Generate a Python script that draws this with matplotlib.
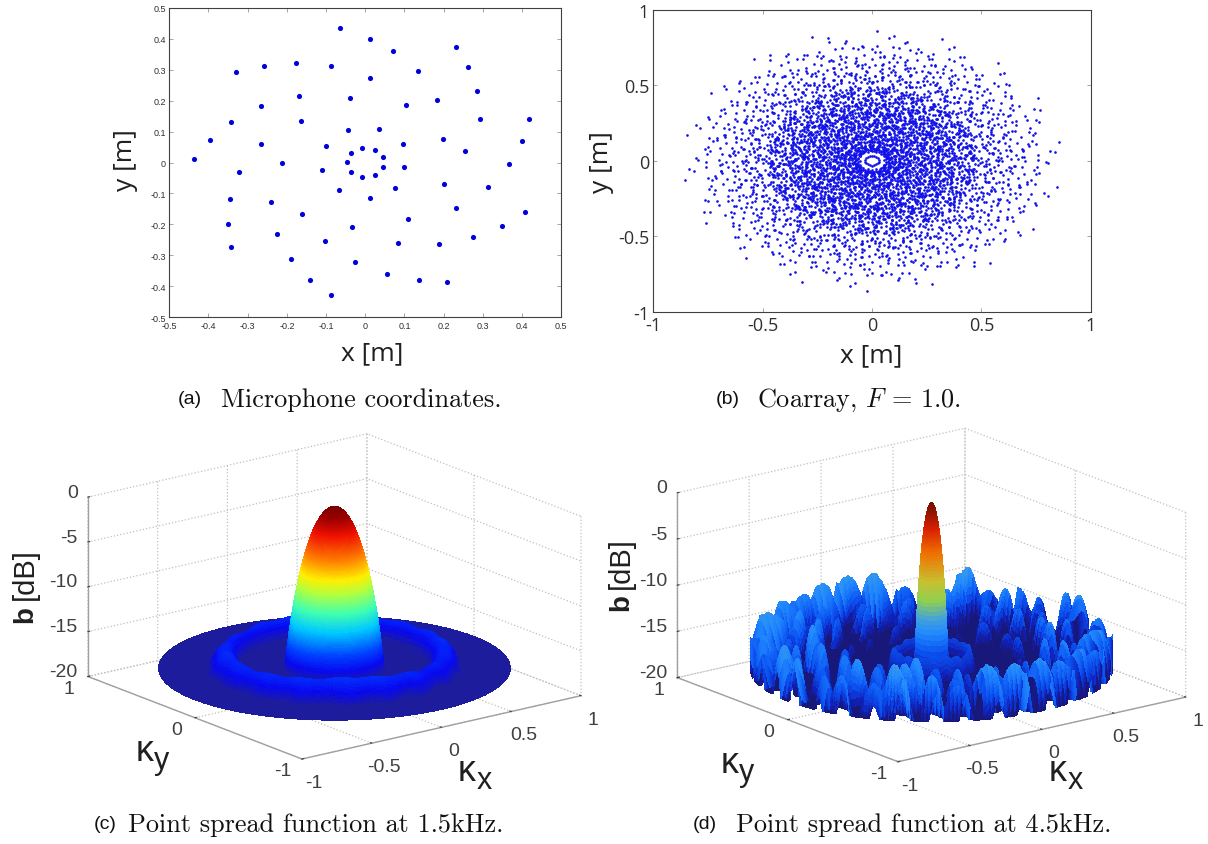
import numpy as np
import matplotlib
matplotlib.use("Agg")
import matplotlib.pyplot as plt
from matplotlib.colors import LinearSegmentedColormap
from mpl_toolkits.mplot3d import proj3d

W, H = 1208, 845
plt.rcParams['axes.unicode_minus'] = False
plt.rcParams['mathtext.fontset'] = 'cm'

# Microphone coordinates
mic_x = [-0.065, 0.011, 0.070, 0.232, 0.262, -0.329, -0.258, -0.177, -0.087, 0.134, 0.011, 0.285,
         -0.168, -0.038, 0.184, -0.267, 0.104, -0.342, -0.164, 0.292, 0.417, -0.043, 0.034, -0.397,
         0.199, 0.399, -0.267, 0.095, -0.099, -0.008, 0.025, 0.255, -0.037, 0.045, -0.438, -0.212,
         -0.047, 0.366, -0.321, -0.037, 0.045, 0.099, -0.110, 0.025, -0.008, 0.201, 0.077, -0.068,
         0.313, -0.346, 0.011, -0.241, 0.232, -0.161, 0.408, -0.351, 0.108, -0.035, 0.349, -0.225,
         0.276, -0.103, 0.083, 0.188, -0.343, -0.189, -0.025, 0.056, -0.141, 0.136, 0.209, -0.088]
mic_y = [0.433, 0.399, 0.359, 0.374, 0.308, 0.291, 0.312, 0.320, 0.312, 0.294, 0.273, 0.231,
         0.216, 0.209, 0.203, 0.182, 0.186, 0.132, 0.135, 0.140, 0.139, 0.105, 0.108, 0.074,
         0.075, 0.068, 0.059, 0.061, 0.052, 0.048, 0.041, 0.038, 0.032, 0.017, 0.012, -0.002,
         0.001, -0.006, -0.031, -0.030, -0.016, -0.013, -0.024, -0.040, -0.047, -0.069, -0.082, -0.089,
         -0.079, -0.118, -0.115, -0.126, -0.146, -0.167, -0.160, -0.199, -0.181, -0.208, -0.204, -0.231,
         -0.240, -0.252, -0.260, -0.262, -0.273, -0.313, -0.321, -0.360, -0.378, -0.379, -0.385, -0.429]

freq_c = 1500.0
freq_d = 4500.0
sound_speed = 320.0  # picked so the lobe widths match the reference
floor_db = -18.0

ticks_a = [-0.5, -0.4, -0.3, -0.2, -0.1, 0, 0.1, 0.2, 0.3, 0.4, 0.5]
labels_a = ['-0.5', '-0.4', '-0.3', '-0.2', '-0.1', '0', '0.1', '0.2', '0.3', '0.4', '0.5']
ticks_b = [-1, -0.5, 0, 0.5, 1]
labels_b = ['-1', '-0.5', '0', '0.5', '1']
ticks_kx = [-1, -0.5, 0, 0.5, 1]
ticks_ky = [-1, 0, 1]
ticks_z = [-20, -15, -10, -5, 0]

# colours: (dB, colour)
colors_c = [(-20, '#15158c'), (-18, '#1c1c9c'), (-17.5, '#1616b8'), (-16.6, '#0808f0'), (-15, '#0040ff'),
            (-12.5, '#00c8ff'), (-10.5, '#40ffb0'), (-8.5, '#b0ff40'), (-7, '#ffee00'), (-5, '#ff8000'),
            (-2.6, '#f01000'), (-1, '#a00000'), (0, '#7a0000')]
colors_d = [(-20, '#141464'), (-18, '#18187a'), (-17, '#1020b8'), (-15.5, '#0a50f0'), (-13.5, '#2088ff'),
            (-12, '#40a0e0'), (-10, '#90d050'), (-8, '#c8c030'), (-5, '#f07000'), (-2.5, '#d82000'), (0, '#701000')]
MIC_X = np.array(mic_x)
MIC_Y = np.array(mic_y)


def make_cmap(pairs):
    pos = [(v + 20) / 20 for v, _ in pairs]
    return LinearSegmentedColormap.from_list('psf', list(zip(pos, [c for _, c in pairs])))


def px_axes(fig, left, top, right, bottom):
    return fig.add_axes([left / W, 1 - bottom / H, (right - left) / W, (bottom - top) / H])


def psf_polar(freq, r_lobe, n_lobe, n_rest, n_theta):
    """Array response on a polar grid, computed from the microphone coordinates."""
    r = np.concatenate([np.linspace(0, r_lobe, n_lobe, endpoint=False), np.linspace(r_lobe, 1, n_rest)])
    th = np.linspace(0, 2 * np.pi, n_theta)
    k = 2 * np.pi * freq / sound_speed
    kx = np.outer(r, np.cos(th))
    ky = np.outer(r, np.sin(th))
    power = np.empty(kx.shape)
    for i in range(len(r)):  # row by row, the full cube is too big
        phase = k * (kx[i, :, None] * MIC_X + ky[i, :, None] * MIC_Y)
        power[i] = np.abs(np.exp(1j * phase).sum(axis=-1)) ** 2 / len(MIC_X) ** 2
    return kx, ky, np.maximum(10 * np.log10(power + 1e-12), floor_db)


def draw_psf(fig, grid, cmap, front_px, right_px, elev, z_aspect):
    ax = fig.add_axes([0.1, 0.1, 0.3, 0.3 * W / H], projection='3d', proj_type='ortho')
    ax.set_facecolor('none')
    ax.view_init(elev=elev, azim=-127.5)
    ax.set_box_aspect((1, 1, z_aspect))
    kx, ky, b = grid
    ax.plot_surface(kx, ky, b, facecolors=cmap((b + 20) / 20), rstride=1, cstride=1,
                    shade=False, antialiased=False, linewidth=0)
    ax.set_xlim(-1, 1, view_margin=0)
    ax.set_ylim(-1, 1, view_margin=0)
    ax.set_zlim(-20, 0, view_margin=0)
    ax.set_xticks(ticks_kx, ['-1', '-0.5', '0', '0.5', '1'])
    ax.set_yticks(ticks_ky, ['-1', '0', '1'], va='baseline')
    ax.set_zticks(ticks_z, ['-20', '-15', '-10', '-5', '0'], ha='right', va='baseline')
    for axis in (ax.xaxis, ax.yaxis, ax.zaxis):
        axis.set_pane_color((1, 1, 1, 0))
        axis.pane.set_edgecolor((1, 1, 1, 0))
        axis.line.set_color('#a0a0a0')
        axis.line.set_linewidth(1.0)
        axis._axinfo['grid'].update(color='#c0c0c0', linestyle=':', linewidth=0.9)
        axis._axinfo['tick'].update(inward_factor=0.0, outward_factor=0.08)
    ax.tick_params(labelsize=14, colors='#404040', labelfontfamily='Liberation Sans', width=0.7)
    ax.tick_params(axis='x', pad=3)
    ax.tick_params(axis='y', pad=5)
    ax.tick_params(axis='z', pad=-4)
    # move and scale the square axes box so the floor corners land where the reference has them
    ax.apply_aspect()
    def corner(x, y):
        u, v, _ = proj3d.proj_transform(x, y, -20, ax.get_proj())
        return ax.transData.transform((u, v))
    p0, p1 = corner(-1, -1), corner(1, -1)
    scale = np.hypot(right_px[0] - front_px[0], right_px[1] - front_px[1]) / np.hypot(*(p1 - p0))
    pos = ax.get_position()
    size = pos.width * W * scale
    cx, cy = (pos.x0 + pos.width / 2) * W, (pos.y0 + pos.height / 2) * H
    ox, oy = p0[0] - cx, p0[1] - cy
    ncx = front_px[0] - ox * scale
    ncy = (H - front_px[1]) - oy * scale
    ax.set_position([(ncx - size / 2) / W, (ncy - size / 2) / H, size / W, size / H])
    return ax


def label(fig, x, y, s, **kw):
    fig.text(x / W, 1 - y / H, s, ha='center', va='center', **kw)


fig = plt.figure(figsize=(W / 100, H / 100), dpi=100)

# (a) microphone coordinates
ax_a = px_axes(fig, 169.3, 8.7, 561.3, 318.3)
ax_a.plot(mic_x, mic_y, 'o', color='#0000dc', ms=3.7, mew=0)
ax_a.set_xlim(-0.5, 0.5)
ax_a.set_ylim(-0.5, 0.5)
ax_a.set_xticks(ticks_a, labels_a)
ax_a.set_yticks(ticks_a, labels_a)
ax_a.tick_params(direction='in', top=True, right=True, length=3, width=0.5, color='#808080',
                 labelsize=6.5, labelcolor='#303030', pad=2.5, labelfontfamily='Liberation Sans')

# (b) coarray: all pairwise differences of the microphones
dx = (MIC_X[:, None] - MIC_X[None, :])[~np.eye(len(MIC_X), dtype=bool)]
dy = (MIC_Y[:, None] - MIC_Y[None, :])[~np.eye(len(MIC_X), dtype=bool)]
ax_b = px_axes(fig, 653.3, 10.7, 1090.7, 312.7)
ax_b.plot(dx, dy, 'o', color='#1010e8', ms=1.9, mew=0)
ax_b.set_xlim(-1, 1)
ax_b.set_ylim(-1, 1)
ax_b.set_xticks(ticks_b, labels_b)
ax_b.set_yticks(ticks_b, labels_b)
ax_b.tick_params(direction='in', top=True, right=True, length=3, width=0.5, color='#808080',
                 labelsize=13, labelcolor='#303030', pad=3, labelfontfamily='Open Sans')

for ax in (ax_a, ax_b):
    for sp in ax.spines.values():
        sp.set_color('#404040')
        sp.set_linewidth(0.8)

# (c), (d) point spread functions; grids kept small, 3D polygons are slow to draw
draw_psf(fig, psf_polar(freq_c, 0.34, 200, 60, 181), make_cmap(colors_c), (302, 760), (581, 696.7), 17.2, 0.534)
draw_psf(fig, psf_polar(freq_d, 0.12, 90, 150, 301), make_cmap(colors_d), (898, 762.7), (1185.7, 698.3), 17.0, 0.533)

# axis labels
sans = dict(family='Open Sans', color='#202020')
label(fig, 372, 354, 'x [m]', fontsize=19, **sans)
label(fig, 126, 160, 'y [m]', fontsize=19, rotation=90, **sans)
label(fig, 871, 356, 'x [m]', fontsize=19, **sans)
label(fig, 601, 162, 'y [m]', fontsize=19, rotation=90, **sans)

helv = dict(family='Liberation Sans', color='#202020')
label(fig, 25, 615, 'b', fontsize=20, rotation=90, fontweight='bold', **helv)
label(fig, 25, 574, '[dB]', fontsize=21, rotation=90, **helv)
label(fig, 621, 603, 'b', fontsize=20, rotation=90, fontweight='bold', **helv)
label(fig, 621, 563, '[dB]', fontsize=21, rotation=90, **helv)
for x, y, s in [(145, 752, 'y'), (730, 764, 'y'), (467, 772, 'x'), (1058, 772, 'x')]:
    label(fig, x, y, '\u03ba', fontsize=26, **helv)
    label(fig, x + 17, y + 9, s, fontsize=22, **helv)

# captions
cap = dict(family='cmr10', fontsize=18.9, color='#111111')
tag_font = dict(family='Liberation Sans', fontsize=14, color='#111111')
for x, y, tag, tx, s in [(190, 400, '(a)', 361, 'Microphone coordinates.'),
                         (728, 400, '(b)', 859, 'Coarray, $F$ = 1.0.'),
                         (105, 825, '(c)', 316, 'Point spread function at 1.5kHz.'),
                         (705, 825, '(d)', 923.5, 'Point spread function at 4.5kHz.')]:
    label(fig, x, y, tag, **tag_font)
    label(fig, tx, y, s, **cap)

fig.savefig('out.png', dpi=100)
